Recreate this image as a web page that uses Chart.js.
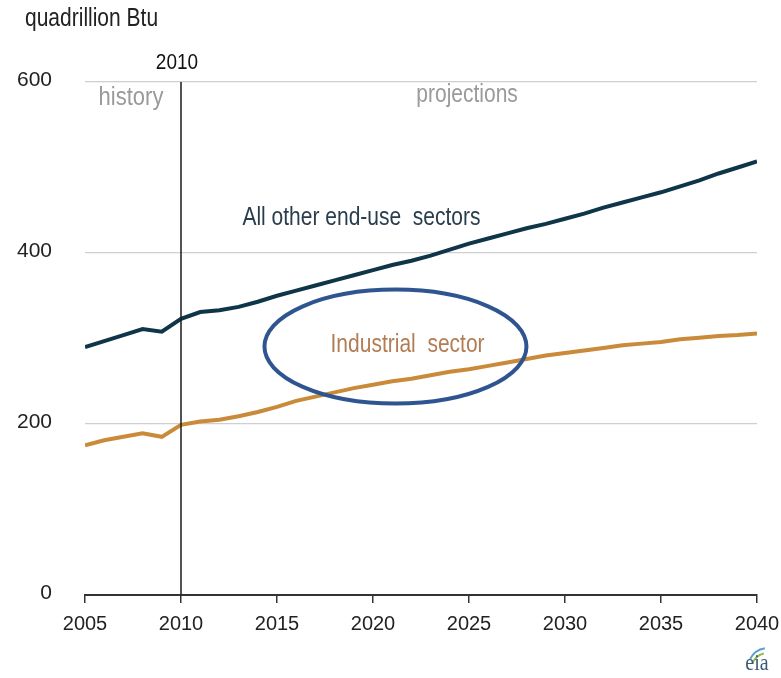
<!DOCTYPE html>
<html>
<head>
<meta charset="utf-8">
<script src="https://cdn.jsdelivr.net/npm/chart.js@4/dist/chart.umd.min.js"></script>
<style>
  html, body { margin: 0; padding: 0; background: #fff; }
  #wrap { width: 781px; height: 678px; position: relative; }
</style>
</head>
<body>
<div id="wrap"><canvas id="chart" width="781" height="678"></canvas></div>
<script>
const years = [2005, 2006, 2007, 2008, 2009, 2010, 2011, 2012, 2013, 2014, 2015, 2016,
    2017, 2018, 2019, 2020, 2021, 2022, 2023, 2024, 2025, 2026, 2027, 2028,
    2029, 2030, 2031, 2032, 2033, 2034, 2035, 2036, 2037, 2038, 2039, 2040];
const otherSectors = [290, 297, 304, 311, 308, 323, 331, 333, 337, 343, 350, 356,
    362, 368, 374, 380, 386, 391, 397, 404, 411, 417, 423, 429,
    434, 440, 446, 453, 459, 465, 471, 478, 485, 493, 500, 507];
const industrial = [175, 181, 185, 189, 185, 199, 203, 205, 209, 214, 220, 227,
    232, 237, 242, 246, 250, 253, 257, 261, 264, 268, 272, 276,
    280, 283, 286, 289, 292, 294, 296, 299, 301, 303, 304, 306];
const xTicks = [2005, 2010, 2015, 2020, 2025, 2030, 2035, 2040];
const yTicks = [0, 200, 400, 600];
const splitYear = 2010;

const toPoints = vals => years.map((yr, i) => ({ x: yr, y: vals[i] }));

// text stretched a bit vertically like the source image
function tallText(ctx, text, x, y, font, color, align) {
    ctx.save();
    ctx.font = font;
    ctx.fillStyle = color;
    ctx.textAlign = align || 'center';
    ctx.textBaseline = 'middle';
    ctx.translate(x, y);
    ctx.scale(1, 1.2);
    ctx.fillText(text, 0, 0);
    ctx.restore();
}

const annotations = {
    id: 'annotations',
    afterDraw(chart) {
        const { ctx, scales: { x, y } } = chart;
        const x2010 = x.getPixelForValue(splitYear);

        // vertical 2010 divider
        ctx.save();
        ctx.strokeStyle = '#1a1a1a';
        ctx.lineWidth = 1.5;
        ctx.beginPath();
        ctx.moveTo(x2010, y.getPixelForValue(600));
        ctx.lineTo(x2010, y.getPixelForValue(0));
        ctx.stroke();
        ctx.restore();

        const font = s => s + 'px "Liberation Sans", Arial, sans-serif';
        tallText(ctx, 'quadrillion Btu', 25, 19, font(21), '#222', 'left');
        tallText(ctx, '2010', x2010 - 4, 63, font(19), '#111');
        tallText(ctx, 'history', x2010 - 50, 98, font(22), '#9a9a9a');
        tallText(ctx, 'projections', x.getPixelForValue(2024.9), 95, font(21), '#9a9a9a');
        tallText(ctx, 'All other end-use  sectors', x.getPixelForValue(2019.4), y.getPixelForValue(441),
            font(21), '#2a3d4c');
        tallText(ctx, 'Industrial  sector', x.getPixelForValue(2021.8), y.getPixelForValue(292),
            font(21), '#b27d55');

        // highlight ellipse
        const cx = x.getPixelForValue(2021.17);
        const cy = y.getPixelForValue(290.5);
        ctx.save();
        ctx.strokeStyle = '#2f5590';
        ctx.lineWidth = 4;
        ctx.beginPath();
        ctx.ellipse(cx, cy, 131, 57, 0, 0, Math.PI * 2);
        ctx.stroke();
        ctx.restore();

        // eia logo
        ctx.save();
        ctx.strokeStyle = '#5aa0c8';
        ctx.lineWidth = 2;
        ctx.beginPath();
        ctx.arc(768, 668, 20, Math.PI * 1.15, Math.PI * 1.45);
        ctx.stroke();
        ctx.strokeStyle = '#8cc04a';
        ctx.beginPath();
        ctx.arc(768, 670, 17, Math.PI * 1.12, Math.PI * 1.42);
        ctx.stroke();
        ctx.restore();
        tallText(ctx, 'eia', 757, 664, '20px "Liberation Serif", serif', '#3c5a78');
    }
};

new Chart(document.getElementById('chart'), {
    type: 'line',
    data: {
        datasets: [
            { label: 'All other end-use sectors', data: toPoints(otherSectors),
              borderColor: '#0f3549', borderWidth: 4, pointRadius: 0, tension: 0 },
            { label: 'Industrial sector', data: toPoints(industrial),
              borderColor: '#c98a3a', borderWidth: 4, pointRadius: 0, tension: 0 }
        ]
    },
    options: {
        responsive: false,
        animation: false,
        layout: { padding: { left: 0, top: 82, right: 24, bottom: 0 } },
        plugins: { legend: { display: false }, tooltip: { enabled: false } },
        scales: {
            x: {
                type: 'linear',
                min: 2005,
                max: 2040,
                afterBuildTicks: s => { s.ticks = xTicks.map(v => ({ value: v })); },
                afterFit: s => { s.height = 83; s.paddingLeft = 0; s.paddingRight = 0; },
                grid: { drawOnChartArea: false, drawTicks: true, tickLength: 8, color: '#333', lineWidth: 1.5 },
                border: { display: true, color: '#333', width: 2 },
                ticks: {
                    padding: 9,
                    maxRotation: 0,
                    color: '#222',
                    font: { family: '"Liberation Sans", Arial', size: 20 },
                    callback: v => String(v)
                }
            },
            y: {
                min: 0,
                max: 600,
                afterBuildTicks: s => { s.ticks = yTicks.map(v => ({ value: v })); },
                afterFit: s => { s.width = 85; s.paddingTop = 0; s.paddingBottom = 0; },
                grid: { drawTicks: false, color: '#cfcfcf', lineWidth: 1.2 },
                border: { display: false },
                ticks: {
                    padding: 33,
                    labelOffset: -2,
                    color: '#222',
                    font: { family: '"Liberation Sans", Arial', size: 21 },
                    callback: v => String(v)
                }
            }
        }
    },
    plugins: [annotations]
});
</script>
</body>
</html>
